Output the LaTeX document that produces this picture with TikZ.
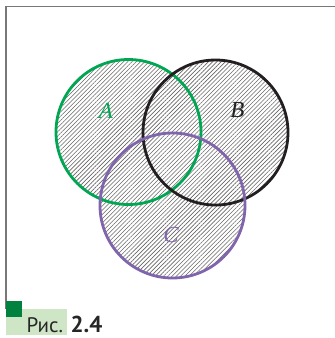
\documentclass[tikz,border=0pt]{standalone}
\usepackage{fontspec}
\setsansfont{PT Sans}
\newfontfamily\setfont{Liberation Serif}
\usetikzlibrary{patterns.meta}

\definecolor{setgreen}{RGB}{0,166,81}
\definecolor{setblack}{RGB}{35,31,32}
\definecolor{setviolet}{RGB}{128,100,172}
\definecolor{capgreen}{RGB}{0,130,62}
\definecolor{caplight}{RGB}{206,230,198}
\definecolor{framegray}{RGB}{120,120,120}

\tikzset{
  setcirc/.style={circle, draw, line width=2.8pt, minimum size=145pt, inner sep=0pt},
  setlabel/.style={font=\setfont\itshape\fontsize{23}{24}\selectfont, inner sep=0pt},
  hatch/.style={pattern={Lines[angle=45, distance=3pt, line width=0.6pt]}, pattern color=black!60}
}

\begin{document}
\begin{tikzpicture}[x=1pt, y=-1pt]
  \useasboundingbox (0,0) rectangle (335,338);
  % frame
  \draw[framegray, line width=1.3pt] (6,309) -- (6,6.5) -- (335,6.5);
  % centres of the sets
  \coordinate (ca) at (128.5,132);
  \coordinate (cb) at (215.5,132.5);
  \coordinate (cc) at (172.5,205.5);
  % hatching of the union
  \fill[hatch] (ca) circle (72.5pt) (cb) circle (72.5pt) (cc) circle (72.5pt);
  % outlines
  \node[setcirc, draw=setgreen] (A) at (ca) {};
  \node[setcirc, draw=setblack] (B) at (cb) {};
  \node[setcirc, draw=setviolet] (C) at (cc) {};
  % labels
  \node[setlabel, text=setgreen] (la) at (106,111) {A};
  \node[setlabel, text=setblack] (lb) at (237.5,110.5) {B};
  \node[setlabel, text=setviolet] (lc) at (171,234.5) {C};
  % caption
  \fill[caplight] (6,309) rectangle (67,335);
  \fill[capgreen] (6,300.7) rectangle (22,316.7);
  \node[anchor=base west, inner sep=0pt, font=\sffamily\fontsize{21}{24}\selectfont, text=black!85] (cap) at (26.5,332) {Рис. {\fontsize{23}{24}\selectfont\textbf{2.4}}};
\end{tikzpicture}
\end{document}
